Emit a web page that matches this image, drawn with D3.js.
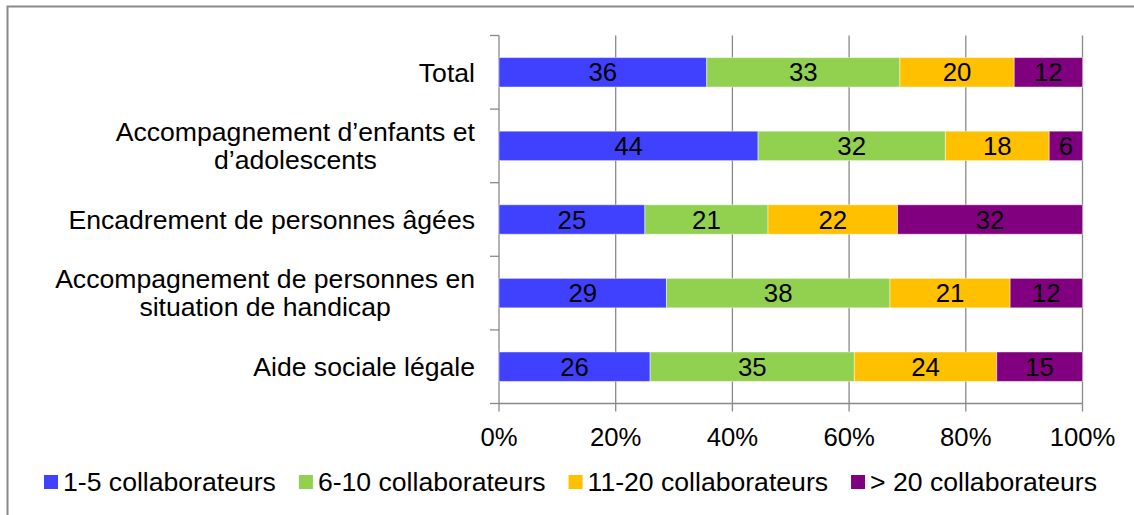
<!DOCTYPE html>
<html>
<head>
<meta charset="utf-8">
<script src="https://cdn.jsdelivr.net/npm/d3@7"></script>
<style>
  body { margin: 0; background: #fff; }
  svg { display: block; font-family: "Liberation Sans", Arial, sans-serif; }
</style>
</head>
<body>
<svg width="1134" height="515"></svg>
<script>
const categories = [
  'Total',
  'Accompagnement d’enfants et\nd’adolescents',
  'Encadrement de personnes âgées',
  'Accompagnement de personnes en\nsituation de handicap',
  'Aide sociale légale',
];
const seriesNames = ['1-5 collaborateurs', '6-10 collaborateurs', '11-20 collaborateurs', '> 20 collaborateurs'];
const small = [35.6, 44.4, 25.0, 28.7, 25.9];
const medium = [33.1, 32.1, 21.1, 38.3, 35.0];
const large = [19.6, 17.8, 22.2, 20.6, 24.4];
const veryLarge = [11.7, 5.7, 31.7, 12.4, 14.7];
const tickValues = [0, 20, 40, 60, 80, 100];

const colors = ['#4040ff', '#92d050', '#ffc000', '#800080'];
const grey = '#898989';

const rows = categories.map((c, i) => ({
  cat: c,
  [seriesNames[0]]: small[i],
  [seriesNames[1]]: medium[i],
  [seriesNames[2]]: large[i],
  [seriesNames[3]]: veryLarge[i],
}));

const svg = d3.select('svg');

// outer frame (only top and left edges are inside the picture)
svg.append('path')
  .attr('d', 'M7.5,515V6.5H1134')
  .style('fill', 'none')
  .style('stroke', grey)
  .style('stroke-width', '2px');

const x = d3.scaleLinear().domain([0, 100]).range([499, 1082.5]);
const y = d3.scaleBand().domain(categories).range([35.5, 403.5])
  .paddingInner(0.6).paddingOuter(0.3);

const plotTop = 35.5;
const plotBottom = 403.5;

// vertical gridlines
svg.append('g')
  .selectAll('line')
  .data(tickValues.slice(1))
  .enter()
  .append('line')
  .attr('x1', d => x(d))
  .attr('x2', d => x(d))
  .attr('y1', plotTop)
  .attr('y2', plotBottom)
  .style('stroke', grey)
  .style('stroke-width', '1.3px');

// category axis with ticks between categories
const step = y.step();
const boundaries = d3.range(categories.length + 1).map(i => plotTop + i * step);
svg.append('line')
  .attr('x1', x(0)).attr('x2', x(0))
  .attr('y1', plotTop).attr('y2', plotBottom)
  .style('stroke', grey).style('stroke-width', '1.3px');
svg.append('g')
  .selectAll('line')
  .data(boundaries)
  .enter()
  .append('line')
  .attr('x1', x(0) - 9).attr('x2', x(0))
  .attr('y1', d => d).attr('y2', d => d)
  .style('stroke', grey).style('stroke-width', '1.3px');

// value axis
svg.append('line')
  .attr('x1', x(0)).attr('x2', x(100))
  .attr('y1', plotBottom).attr('y2', plotBottom)
  .style('stroke', grey).style('stroke-width', '1.3px');
svg.append('g')
  .selectAll('line')
  .data(tickValues)
  .enter()
  .append('line')
  .attr('x1', d => x(d)).attr('x2', d => x(d))
  .attr('y1', plotBottom).attr('y2', plotBottom + 8)
  .style('stroke', grey).style('stroke-width', '1.3px');

svg.append('g')
  .selectAll('text')
  .data(tickValues)
  .enter()
  .append('text')
  .attr('x', d => x(d))
  .attr('y', 446)
  .attr('text-anchor', 'middle')
  .style('font-size', '25.7px')
  .text(d => `${d}%`);

// bars
const stacked = d3.stack().keys(seriesNames)(rows);

const layers = svg.append('g')
  .selectAll('g.layer')
  .data(stacked)
  .enter()
  .append('g')
  .attr('class', 'layer')
  .style('fill', (d, i) => colors[i]);

layers.selectAll('rect')
  .data(d => d)
  .enter()
  .append('rect')
  .attr('x', d => x(d[0]))
  .attr('width', d => x(d[1]) - x(d[0]))
  .attr('y', d => y(d.data.cat))
  .attr('height', y.bandwidth())
  .style('stroke', 'rgba(255,255,255,0.45)')
  .style('stroke-width', '1px');

layers.selectAll('text')
  .data(d => d)
  .enter()
  .append('text')
  .attr('x', d => (x(d[0]) + x(d[1])) / 2)
  .attr('y', d => y(d.data.cat) + y.bandwidth() / 2)
  .attr('dy', '0.35em')
  .attr('text-anchor', 'middle')
  .style('fill', '#000')
  .style('font-size', '25.8px')
  .text(d => Math.round(d[1] - d[0]));

// category labels, wrapped lines centred as a block ending at the axis
const lineHeight = 28;
categories.forEach((c) => {
  const lines = c.split('\n');
  const g = svg.append('g');
  const texts = g.selectAll('text')
    .data(lines)
    .enter()
    .append('text')
    .attr('text-anchor', 'middle')
    .style('font-size', '26.6px')
    .text(d => d);
  let maxW = 0;
  texts.each(function () { maxW = Math.max(maxW, this.getComputedTextLength()); });
  const cx = 475 - maxW / 2;
  const cy = y(c) + y.bandwidth() / 2;
  texts
    .attr('x', cx)
    .attr('y', (d, i) => cy + (i - (lines.length - 1) / 2) * lineHeight)
    .attr('dy', '0.35em');
});

// legend
const legend = svg.append('g');
const items = legend.selectAll('g')
  .data(seriesNames)
  .enter()
  .append('g');
items.append('rect')
  .attr('width', 14)
  .attr('height', 14)
  .attr('y', 475)
  .style('fill', (d, i) => colors[i]);
items.append('text')
  .attr('x', 19)
  .attr('y', 482)
  .attr('dy', '0.35em')
  .style('font-size', '26.6px')
  .text(d => d);

const gap = 23;
const widths = [];
items.select('text').each(function () { widths.push(19 + this.getComputedTextLength()); });
const totalW = d3.sum(widths) + gap * (widths.length - 1);
let lx = 570.5 - totalW / 2;
items.attr('transform', (d, i) => {
  const t = `translate(${lx},0)`;
  lx += widths[i] + gap;
  return t;
});
</script>
</body>
</html>
